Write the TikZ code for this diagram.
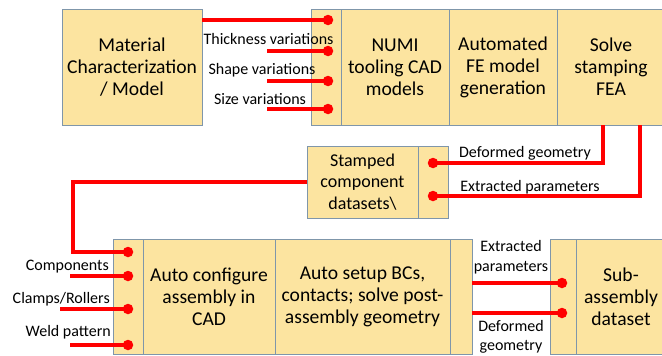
\documentclass[tikz,border=0pt]{standalone}
\usepackage{fontspec}
\setmainfont{Carlito}
\definecolor{boxfill}{RGB}{252,228,160}
\definecolor{boxline}{RGB}{127,150,170}
\definecolor{wire}{RGB}{255,0,0}
\tikzset{
  box/.style={draw=boxline, fill=boxfill, line width=0.9pt, rectangle, inner sep=0pt, align=center,
    font=\fontsize{19.6}{22}\selectfont},
  small box/.style={box, font=\fontsize{18}{21.5}\selectfont},
  dot/.style={circle, fill=wire, draw=none, minimum size=10.5pt, inner sep=0pt},
  wireline/.style={draw=wire, line width=3.2pt},
  lbl/.style={inner sep=0pt, align=center, font=\fontsize{16}{19.5}\selectfont},
}
\begin{document}
\begin{tikzpicture}[x=1pt, y=-1pt]
\useasboundingbox (0,0) rectangle (662,356);
% top row
\node[box, minimum width=140pt, minimum height=116pt] (mat) at (132,67) {Material\\Characterization\\/ Model};
\node[box, minimum width=30pt, minimum height=116pt] (tport) at (326,67) {};
\node[box, minimum width=108pt, minimum height=116pt] (numi) at (395,67) {NUMI\\tooling CAD\\models};
\node[box, minimum width=108pt, minimum height=116pt] (autofe) at (503,67) {Automated\\FE model\\generation};
\node[box, minimum width=108pt, minimum height=116pt, text width=96pt] (solve) at (611,67) {Solve\\stamping\\FEA};
% stamped
\node[small box, minimum width=111pt, minimum height=72pt] (stamped) at (362.5,182) {Stamped\\component\\datasets\textbackslash};
\node[box, minimum width=30pt, minimum height=72pt] (sport) at (433,182) {};
% bottom row
\node[box, minimum width=30pt, minimum height=115pt] (bport) at (128,296.5) {};
\node[box, minimum width=132pt, minimum height=115pt] (conf) at (209,296.5) {Auto configure\\assembly in\\CAD};
\node[box, minimum width=175pt, minimum height=115pt] (setup) at (362.5,296.5) {Auto setup BCs,\\contacts; solve post-\\assembly geometry};
\node[box, minimum width=22pt, minimum height=115pt] (thin) at (461,296.5) {};
\node[box, minimum width=26pt, minimum height=115pt] (subport) at (563,296.5) {};
\node[box, minimum width=90pt, minimum height=115pt, text width=80pt] (sub) at (621,296.5) {Sub-\\assembly\\dataset};

% free ends
\coordinate (f1) at (267,51);
\coordinate (f2) at (267,81);
\coordinate (f3) at (267,109);
\coordinate (g1) at (70,276);
\coordinate (g2) at (60,309);
\coordinate (g3) at (70,345);
\coordinate (corner) at (73,182);

% dot positions
\coordinate (t1) at (328,20);
\coordinate (t2) at (328,51);
\coordinate (t3) at (328,81);
\coordinate (t4) at (328,109);
\coordinate (s1) at (433,163);
\coordinate (s2) at (433,196);
\coordinate (b1) at (128,252);
\coordinate (b2) at (128,276);
\coordinate (b3) at (128,309);
\coordinate (b4) at (128,345);
\coordinate (r1) at (562,283);
\coordinate (r2) at (562,313);

% wires
\draw[wireline] (mat.east |- t1) -- (t1);
\draw[wireline] (f1) -- (t2);
\draw[wireline] (f2) -- (t3);
\draw[wireline] (f3) -- (t4);
\draw[wireline] (s1) -| ([xshift=-8pt]solve.south);
\draw[wireline] (s2) -| ([xshift=29pt]solve.south);
\draw[wireline] (stamped.west) -- (corner) |- (b1);
\draw[wireline] (g1) -- (b2);
\draw[wireline] (g2) -- (b3);
\draw[wireline] (g3) -- (b4);
\draw[wireline] (thin.east |- r1) -- (r1);
\draw[wireline] (thin.east |- r2) -- (r2);

% dots
\foreach \d in {t1,t2,t3,t4,s1,s2,b1,b2,b3,b4,r1,r2}
  \node[dot] (dot-\d) at (\d) {};

% labels
\node[lbl] (l1) at (268.5,39) {Thickness variations};
\node[lbl] (l2) at (262,70) {Shape variations};
\node[lbl] (l3) at (260,99) {Size variations};
\node[lbl] (l4) at (525,153) {Deformed geometry};
\node[lbl] (l5) at (530,187) {Extracted parameters};
\node[lbl, anchor=east] (l6) at (109,267) {Components};
\node[lbl, anchor=east] (l7) at (110,299) {Clamps/Rollers};
\node[lbl, anchor=east] (l8) at (111,332) {Weld pattern};
\node[lbl] (l9) at (511,257) {Extracted\\parameters};
\node[lbl] (l10) at (511,337) {Deformed\\geometry};
\end{tikzpicture}
\end{document}
